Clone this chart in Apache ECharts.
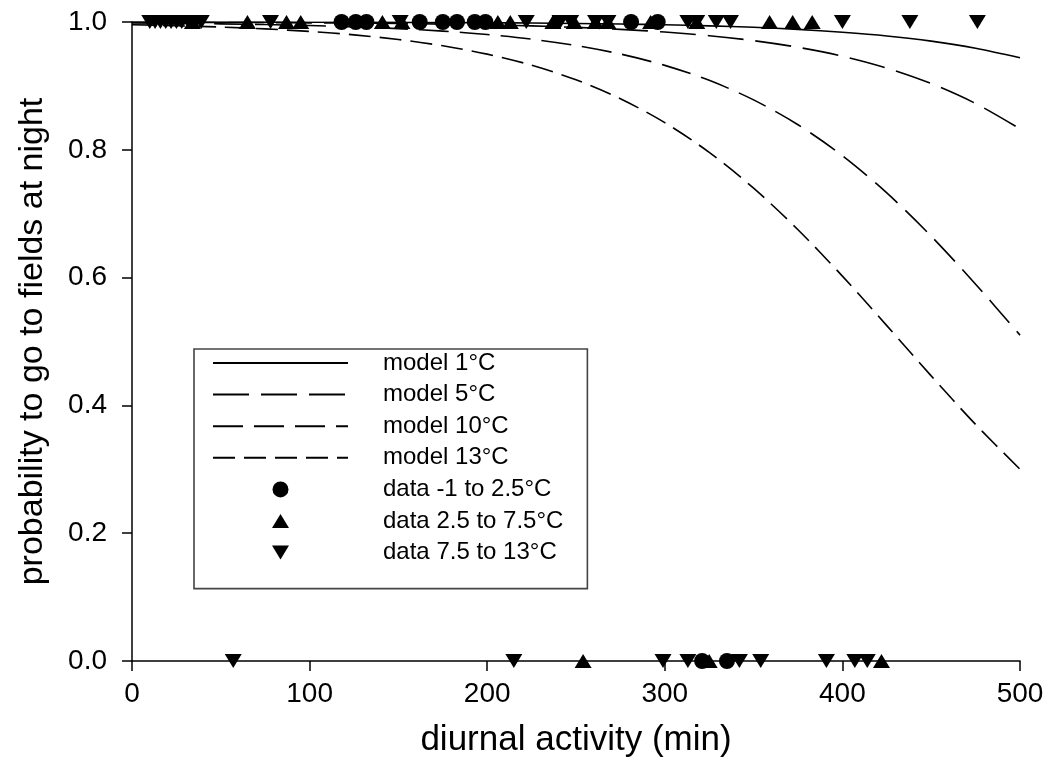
<!DOCTYPE html>
<html>
<head>
<meta charset="utf-8">
<script src="https://cdn.jsdelivr.net/npm/echarts@6/dist/echarts.min.js"></script>
<style>html,body{margin:0;padding:0;background:#fff;}#c{width:1049px;height:783px;}</style>
</head>
<body>
<div id="c"></div>
<script>
// model curve sample positions (min)
const modelX = [0, 25, 50, 75, 100, 125, 150, 175, 200, 225, 250, 275, 300, 325, 350, 375, 400, 425, 450, 475, 500];
const model1 = [0.9999, 0.9999, 0.9998, 0.9998, 0.9997, 0.9996, 0.9994, 0.9991, 0.9988, 0.9984, 0.9977, 0.9968, 0.9956, 0.9940, 0.9917, 0.9885, 0.9840, 0.9782, 0.9701, 0.9590, 0.9441];
const model5 = [0.9996, 0.9995, 0.9993, 0.9991, 0.9987, 0.9983, 0.9976, 0.9967, 0.9955, 0.9939, 0.9916, 0.9885, 0.9843, 0.9786, 0.9708, 0.9604, 0.9465, 0.9279, 0.9036, 0.8724, 0.8327];
const model10 = [0.9985, 0.9979, 0.9971, 0.9960, 0.9945, 0.9924, 0.9896, 0.9857, 0.9804, 0.9731, 0.9632, 0.9499, 0.9321, 0.9087, 0.8781, 0.8392, 0.7909, 0.7325, 0.6648, 0.5897, 0.5100];
const model13 = [0.9958, 0.9942, 0.9921, 0.9892, 0.9852, 0.9799, 0.9726, 0.9628, 0.9497, 0.9324, 0.9095, 0.8800, 0.8425, 0.7960, 0.7400, 0.6749, 0.6023, 0.5248, 0.4462, 0.3702, 0.3001];

// observations: x positions (min) of birds that went to fields (1) or not (0)
const coldGo = [118, 126, 132, 162, 175, 183, 193, 199, 281, 296];
const coldStay = [321, 335];
const midGo = [34, 65, 87, 95, 141, 152, 206, 213, 237, 249, 261, 268, 292, 318, 359, 372, 383];
const midStay = [254, 325, 422];
const warmGo = [10, 13, 16, 19, 22, 25, 28, 32, 35, 39, 78, 151, 222, 241, 247, 261, 268, 313, 318, 329, 337, 400, 438, 476];
const warmStay = [57, 215, 299, 313, 342, 354, 391, 407, 414];

const FONT = 'Liberation Sans, Arial, sans-serif';
const pair = (xs, ys) => xs.map((x, i) => [x, ys[i]]);
const obs = (go, stay) => go.map(x => [x, 1]).concat(stay.map(x => [x, 0]));

const lineSeries = (name, ys, dash) => ({
  name, type: 'line', data: pair(modelX, ys), showSymbol: false, symbol: 'none',
  smooth: 0.3, z: 2,
  itemStyle: { color: 'rgba(0,0,0,0)' },
  lineStyle: { color: '#000', width: 1.6, type: dash }
});
const scatterSeries = (name, data, symbol, size, rot) => ({
  name, type: 'scatter', data, symbol, symbolSize: size, symbolRotate: rot || 0, z: 3,
  itemStyle: { color: '#000', opacity: 1 }, clip: false
});

const UP_ICON = 'path://M0,0 M17,16 M8.5,1 L17,15 L0,15 Z';
const DOWN_ICON = 'path://M0,0 M17,16 M0,1 L17,1 L8.5,15 Z';

const chart = echarts.init(document.getElementById('c'), null, { renderer: 'canvas' });
chart.setOption({
  animation: false,
  backgroundColor: '#fff',
  grid: { left: 132, right: 29, top: 22, bottom: 122, containLabel: false },
  xAxis: {
    type: 'value', min: 0, max: 500, interval: 100,
    name: 'diurnal activity (min)', nameLocation: 'middle', nameGap: 62,
    nameTextStyle: { fontFamily: FONT, fontSize: 35, color: '#000' },
    axisLine: { show: true, onZero: false, lineStyle: { color: '#000', width: 1.5 } },
    axisTick: { show: true, inside: false, length: 10, lineStyle: { color: '#000', width: 1.5 } },
    axisLabel: { fontFamily: FONT, fontSize: 28, color: '#000', margin: 19 },
    splitLine: { show: false }
  },
  yAxis: {
    type: 'value', min: 0, max: 1, interval: 0.2,
    name: 'probability to go to fields at night', nameLocation: 'middle', nameGap: 82,
    nameTextStyle: { fontFamily: FONT, fontSize: 34, color: '#000' },
    axisLine: { show: true, onZero: false, lineStyle: { color: '#000', width: 1.5 } },
    axisTick: { show: true, inside: false, length: 10, lineStyle: { color: '#000', width: 1.5 } },
    axisLabel: { fontFamily: FONT, fontSize: 28, color: '#000', margin: 25, formatter: v => v.toFixed(1) },
    splitLine: { show: false }
  },
  legend: {
    orient: 'vertical', left: 194, top: 349,
    padding: [2, 24, 24, 18], itemGap: 7.6, itemWidth: 135, itemHeight: 16,
    symbolKeepAspect: true,
    borderColor: '#444', borderWidth: 1.6, backgroundColor: '#fff',
    textStyle: { fontFamily: FONT, fontSize: 24, color: '#000', padding: [0, 0, 0, 30] },
    data: [
      { name: 'model 1°C', itemStyle: { opacity: 0 } },
      { name: 'model 5°C', itemStyle: { opacity: 0 } },
      { name: 'model 10°C', itemStyle: { opacity: 0 } },
      { name: 'model 13°C', itemStyle: { opacity: 0 } },
      { name: 'data -1 to 2.5°C', icon: 'circle' },
      { name: 'data 2.5 to 7.5°C', icon: UP_ICON },
      { name: 'data 7.5 to 13°C', icon: DOWN_ICON }
    ]
  },
  series: [
    lineSeries('model 1°C', model1, 'solid'),
    lineSeries('model 5°C', model5, [36, 12]),
    lineSeries('model 10°C', model10, [30, 11]),
    lineSeries('model 13°C', model13, [22, 9]),
    scatterSeries('data -1 to 2.5°C', obs(coldGo, coldStay), 'circle', 16),
    scatterSeries('data 2.5 to 7.5°C', obs(midGo, midStay), 'triangle', [17, 14]),
    scatterSeries('data 7.5 to 13°C', obs(warmGo, warmStay), 'triangle', [17, 14], 180)
  ]
});
</script>
</body>
</html>
